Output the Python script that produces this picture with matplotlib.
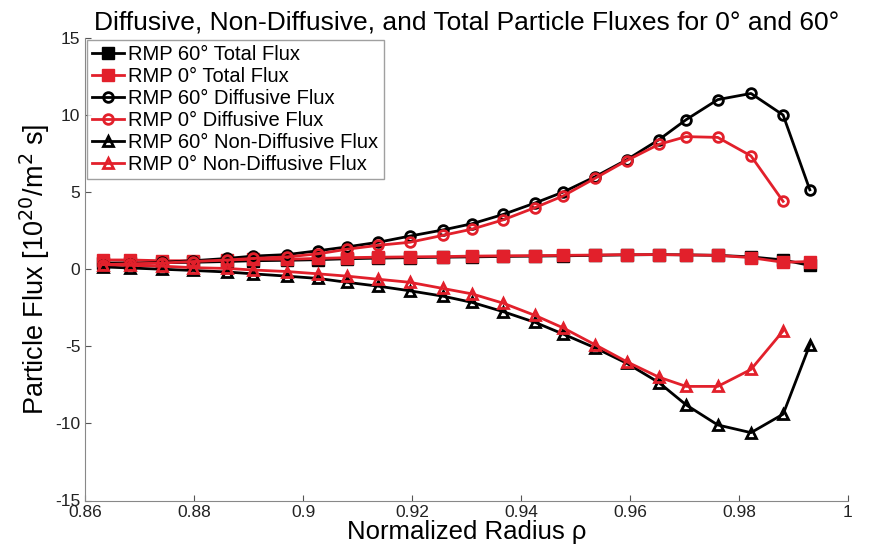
import matplotlib.pyplot as plt

plt.rcParams['font.family'] = ['Liberation Sans', 'DejaVu Sans']
plt.rcParams['axes.unicode_minus'] = False

# normalized radius grid
rho = [0.8633, 0.8683, 0.8741, 0.8798, 0.8861, 0.8908, 0.8971, 0.9028,
       0.9081, 0.9138, 0.9196, 0.9257, 0.9310, 0.9367, 0.9426, 0.9477,
       0.9536, 0.9594, 0.9653, 0.9703, 0.9761, 0.9822, 0.9881, 0.9930]
rho0 = rho[:-1]  # 0 deg diffusive / non-diffusive stop one point earlier

total60 = [0.40, 0.42, 0.42, 0.45, 0.50, 0.55, 0.58, 0.62, 0.68, 0.72, 0.75, 0.78,
           0.80, 0.83, 0.85, 0.87, 0.90, 0.93, 0.95, 0.93, 0.90, 0.80, 0.60, 0.25]
total0 = [0.60, 0.60, 0.55, 0.55, 0.60, 0.65, 0.65, 0.70, 0.75, 0.78, 0.80, 0.82,
          0.85, 0.87, 0.88, 0.90, 0.92, 0.95, 0.95, 0.93, 0.90, 0.75, 0.45, 0.50]

diff60 = [0.30, 0.35, 0.45, 0.55, 0.70, 0.85, 0.95, 1.20, 1.45, 1.75, 2.15, 2.55,
          2.95, 3.55, 4.30, 5.00, 6.00, 7.10, 8.40, 9.70, 11.00, 11.40, 10.00, 5.15]
diff0 = [0.30, 0.35, 0.40, 0.50, 0.60, 0.70, 0.80, 1.00, 1.30, 1.55, 1.75, 2.20,
         2.60, 3.20, 4.00, 4.75, 5.90, 7.05, 8.10, 8.60, 8.55, 7.35, 4.40]

nondiff60 = [0.15, 0.08, 0.00, -0.08, -0.18, -0.30, -0.45, -0.60, -0.85, -1.10, -1.40, -1.75,
             -2.15, -2.75, -3.45, -4.20, -5.10, -6.10, -7.35, -8.80, -10.10, -10.60, -9.40, -4.90]
nondiff0 = [0.30, 0.25, 0.20, 0.10, 0.05, -0.05, -0.15, -0.30, -0.45, -0.65, -0.85, -1.25,
            -1.60, -2.20, -3.00, -3.80, -4.90, -6.00, -7.00, -7.60, -7.60, -6.50, -4.00]

red = '#e2202b'

fig = plt.figure(figsize=(8.87, 5.5), dpi=100)
ax = fig.add_axes([0.096, 0.09, 0.86, 0.841])

ax.plot(rho, total60, '-s', color='k', lw=2, ms=8.5, label='RMP 60° Total Flux')
ax.plot(rho, total0, '-s', color=red, lw=2, ms=8.5, label='RMP 0° Total Flux')
ax.plot(rho, diff60, '-o', color='k', lw=2, ms=7, mfc='none', mew=2, label='RMP 60° Diffusive Flux')
ax.plot(rho0, diff0, '-o', color=red, lw=2, ms=7, mfc='none', mew=2, label='RMP 0° Diffusive Flux')
ax.plot(rho, nondiff60, '-^', color='k', lw=2, ms=7, mfc='none', mew=2, label='RMP 60° Non-Diffusive Flux')
ax.plot(rho0, nondiff0, '-^', color=red, lw=2, ms=7, mfc='none', mew=2, label='RMP 0° Non-Diffusive Flux')

ax.set_xlim(0.86, 1)
ax.set_ylim(-15, 15)
ax.set_xticks([0.86, 0.88, 0.9, 0.92, 0.94, 0.96, 0.98, 1])
ax.set_xticklabels(['0.86', '0.88', '0.9', '0.92', '0.94', '0.96', '0.98', '1'])
ax.set_yticks([-15, -10, -5, 0, 5, 10, 15])
ax.tick_params(direction='in', length=4, labelsize=12.5, colors='#555555', labelcolor='#222222')
ax.tick_params(axis='x', pad=3)
for s in ['top', 'right']:
    ax.spines[s].set_visible(False)
for s in ['left', 'bottom']:
    ax.spines[s].set_color('#888888')

ax.set_title('Diffusive, Non-Diffusive, and Total Particle Fluxes for 0° and 60°',
             fontsize=19, pad=6)
ax.set_xlabel('Normalized Radius ρ', fontsize=18.5, labelpad=0)
ax.set_ylabel('Particle Flux [10$^{20}$/m$^2$ s]', fontsize=19.5, labelpad=2)

leg = ax.legend(loc='upper left', fontsize=14.5, frameon=True, fancybox=False,
                borderaxespad=0.1, handlelength=1.6, labelspacing=0.15,
                borderpad=0.25, handletextpad=0.2)
leg.get_frame().set_edgecolor('#888888')
leg.get_frame().set_linewidth(1)

plt.savefig('out.png', dpi=100)
